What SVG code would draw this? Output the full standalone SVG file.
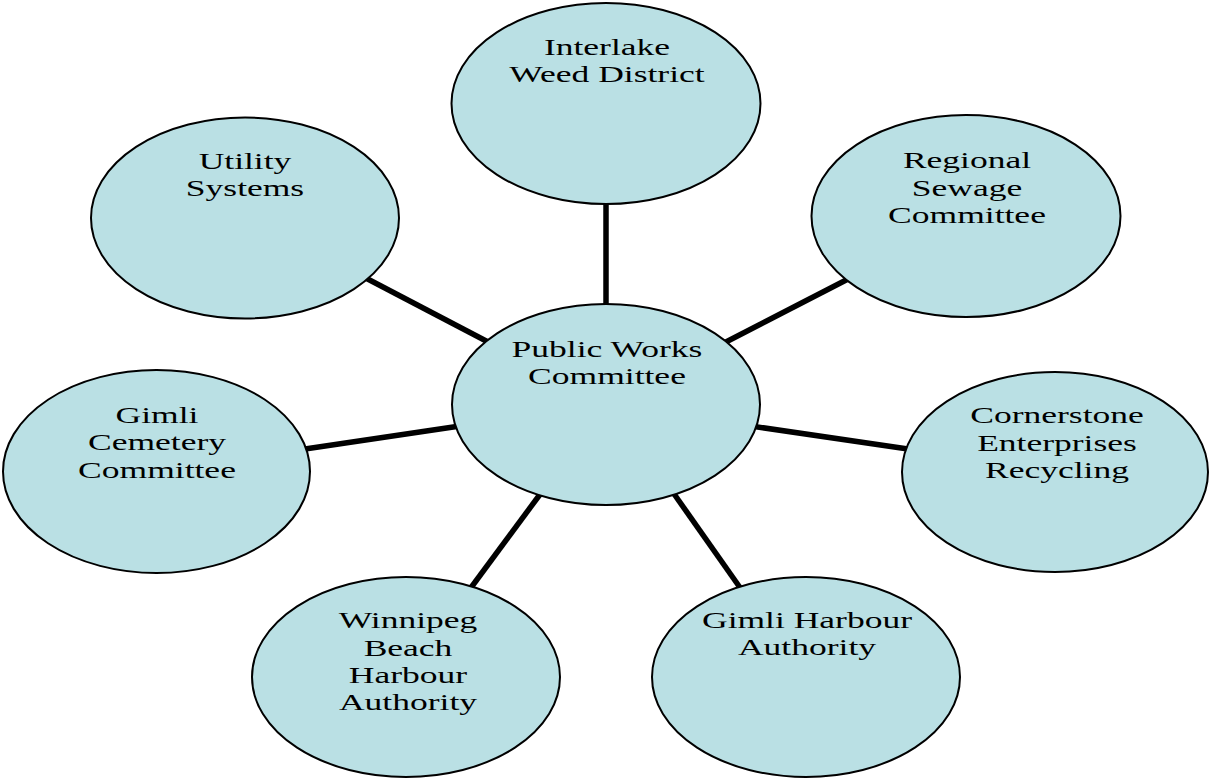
<svg xmlns="http://www.w3.org/2000/svg" width="1211" height="779" viewBox="0 0 1211 779">
<style>
.n{fill:#BAE0E4;stroke:#000;stroke-width:2}
.c{stroke:#000;stroke-width:5.5;fill:none}
.t{font-family:"Liberation Serif","Times New Roman",serif;font-size:24px;fill:#000;text-anchor:middle}
</style>
<rect width="1211" height="779" fill="#fff"/>
<g id="connectors">
<line class="c" x1="606" y1="200" x2="606" y2="308"/>
<line class="c" x1="360" y1="275" x2="490" y2="343"/>
<line class="c" x1="852" y1="277" x2="722" y2="344"/>
<line class="c" x1="305" y1="449" x2="460" y2="426"/>
<line class="c" x1="751" y1="426" x2="908" y2="449"/>
<line class="c" x1="470" y1="589" x2="541" y2="493"/>
<line class="c" x1="672" y1="491" x2="741" y2="589"/>
</g>
<g id="node-interlake">
<ellipse class="n" cx="606" cy="103.5" rx="154.5" ry="100.5"/>
<text class="t" transform="translate(607,0) scale(1.48,1)"><tspan x="0" y="55">Interlake</tspan><tspan x="0" y="82">Weed District</tspan></text>
</g>
<g id="node-utility">
<ellipse class="n" cx="245" cy="218" rx="154" ry="100.5"/>
<text class="t" transform="translate(245,0) scale(1.48,1)"><tspan x="0" y="169">Utility</tspan><tspan x="0" y="196">Systems</tspan></text>
</g>
<g id="node-regional">
<ellipse class="n" cx="966" cy="216" rx="154.5" ry="101"/>
<text class="t" transform="translate(967,0) scale(1.48,1)"><tspan x="0" y="168">Regional</tspan><tspan x="0" y="196">Sewage</tspan><tspan x="0" y="223">Committee</tspan></text>
</g>
<g id="node-public-works">
<ellipse class="n" cx="606" cy="404.5" rx="154" ry="100.5"/>
<text class="t" transform="translate(607,0) scale(1.48,1)"><tspan x="0" y="357">Public Works</tspan><tspan x="0" y="384">Committee</tspan></text>
</g>
<g id="node-cemetery">
<ellipse class="n" cx="156.5" cy="471.5" rx="153.5" ry="101.5"/>
<text class="t" transform="translate(157,0) scale(1.48,1)"><tspan x="0" y="423">Gimli</tspan><tspan x="0" y="450">Cemetery</tspan><tspan x="0" y="478">Committee</tspan></text>
</g>
<g id="node-cornerstone">
<ellipse class="n" cx="1055" cy="472" rx="153" ry="100"/>
<text class="t" transform="translate(1057,0) scale(1.48,1)"><tspan x="0" y="423">Cornerstone</tspan><tspan x="0" y="451">Enterprises</tspan><tspan x="0" y="478">Recycling</tspan></text>
</g>
<g id="node-winnipeg">
<ellipse class="n" cx="406" cy="677" rx="154" ry="100"/>
<text class="t" transform="translate(408,0) scale(1.48,1)"><tspan x="0" y="628">Winnipeg</tspan><tspan x="0" y="656">Beach</tspan><tspan x="0" y="683">Harbour</tspan><tspan x="0" y="710">Authority</tspan></text>
</g>
<g id="node-gimli-harbour">
<ellipse class="n" cx="806" cy="677" rx="154" ry="100"/>
<text class="t" transform="translate(807,0) scale(1.48,1)"><tspan x="0" y="628">Gimli Harbour</tspan><tspan x="0" y="655">Authority</tspan></text>
</g>
</svg>
